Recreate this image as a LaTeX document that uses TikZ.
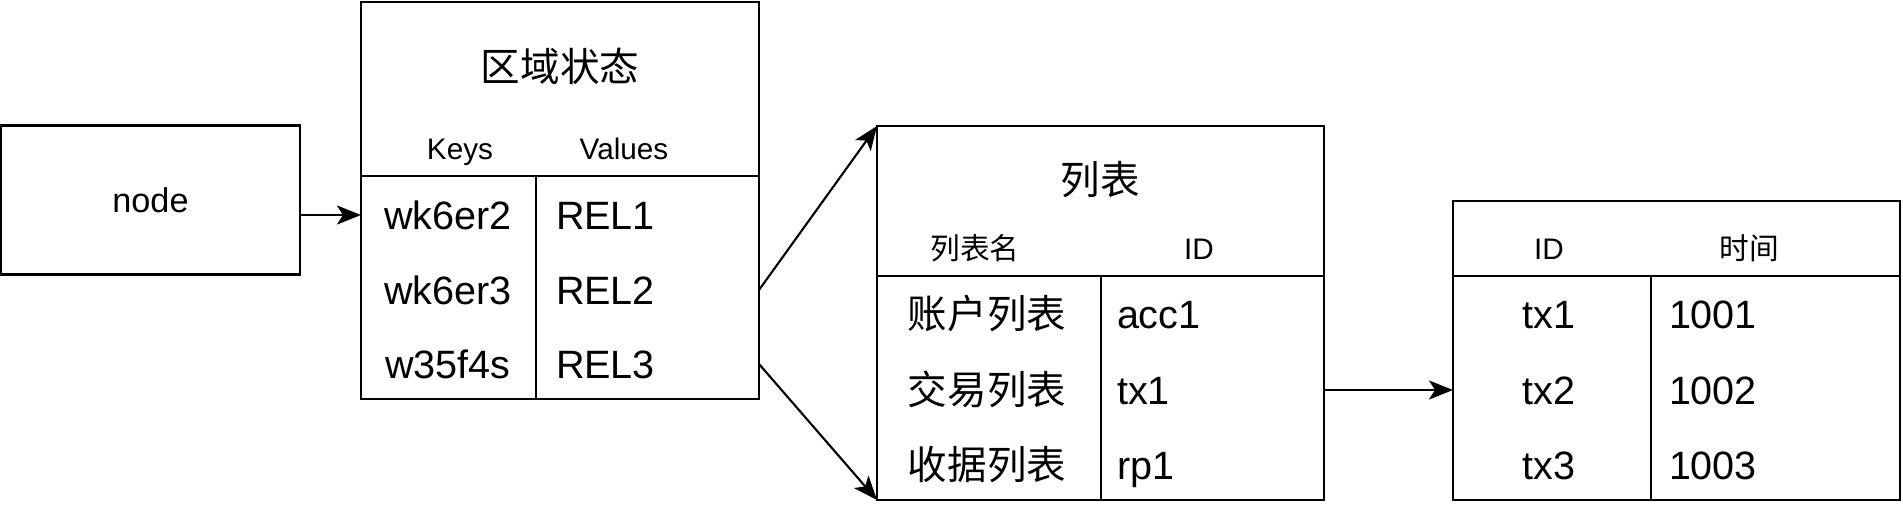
\documentclass[tikz,border=0pt]{standalone}
\usepackage{fontspec}
\setmainfont{Liberation Sans}
\newfontfamily\cjk{Noto Sans CJK SC}
\usetikzlibrary{arrows.meta}
\begin{document}
\begin{tikzpicture}[line width=1.2pt,
  every node/.style={inner sep=0pt, outer sep=0pt},
  tbl/.style={draw, rectangle},
  big/.style={font=\fontsize{22.5}{27}\selectfont, text height=0.57cm, text depth=0cm},
  small/.style={font=\fontsize{16.9}{20}\selectfont, text height=0.42cm, text depth=0cm},
  arr/.style={-{Stealth[length=0.48cm,width=0.38cm,inset=0.12cm]}}]
\useasboundingbox (0,0) rectangle (38.06,-10.46);

\node[tbl, minimum width=5.98cm, minimum height=2.98cm, font=\fontsize{19.5}{23}\selectfont] (node) at (3.01,-4.0) {node};

\node[tbl, minimum width=7.96cm, minimum height=7.94cm] (state) at (11.2,-4.01) {};
\draw (state.west |- 0,-3.52) -- (state.east |- 0,-3.52);
\draw (10.72,-3.52) -- (state.south -| 10.72,0);
\node[big] (st) at (11.2,-1.34) {\cjk 区域状态};
\node[small] (keys) at (9.2,-2.98) {Keys};
\node[small] (vals) at (12.48,-2.98) {Values};
\node[big] (k1) at (8.96,-4.3) {wk6er2};
\node[big] (k2) at (8.96,-5.8) {wk6er3};
\node[big] (k3) at (8.96,-7.28) {w35f4s};
\node[big, anchor=west] (v1) at (11.12,-4.3) {REL1};
\node[big, anchor=west] (v2) at (11.12,-5.8) {REL2};
\node[big, anchor=west] (v3) at (11.12,-7.28) {REL3};

\node[tbl, minimum width=8.94cm, minimum height=7.48cm] (list) at (22.01,-6.26) {};
\draw (list.west |- 0,-5.52) -- (list.east |- 0,-5.52);
\draw (22.02,-5.52) -- (list.south -| 22.02,0);
\node[big] (lt) at (22.0,-3.6) {\cjk 列表};
\node[small] (lname) at (19.5,-4.98) {\cjk 列表名};
\node[small] (lid) at (23.98,-4.98) {ID};
\node[big] (l1) at (19.74,-6.28) {\cjk 账户列表};
\node[big] (l2) at (19.74,-7.8) {\cjk 交易列表};
\node[big] (l3) at (19.74,-9.3) {\cjk 收据列表};
\node[big, anchor=west] (i1) at (22.34,-6.28) {acc1};
\node[big, anchor=west] (i2) at (22.34,-7.8) {tx1};
\node[big, anchor=west] (i3) at (22.34,-9.3) {rp1};

\node[tbl, minimum width=8.94cm, minimum height=5.98cm] (time) at (33.53,-7.01) {};
\draw (time.west |- 0,-5.52) -- (time.east |- 0,-5.52);
\draw (33.02,-5.52) -- (time.south -| 33.02,0);
\node[small] (tid) at (30.98,-4.98) {ID};
\node[small] (tt) at (34.98,-4.98) {\cjk 时间};
\node[big] (t1) at (30.98,-6.28) {tx1};
\node[big] (t2) at (30.98,-7.8) {tx2};
\node[big] (t3) at (30.98,-9.3) {tx3};
\node[big, anchor=west] (s1) at (33.38,-6.28) {1001};
\node[big, anchor=west] (s2) at (33.38,-7.8) {1002};
\node[big, anchor=west] (s3) at (33.38,-9.3) {1003};

\draw[arr] (node.east |- k1) -- (state.west |- k1);
\draw[arr] (state.east |- k2) -- (list.north west);
\draw[arr] (state.east |- k3) -- (list.south west);
\draw[arr] (list.east |- l2) -- (time.west |- l2);
\end{tikzpicture}
\end{document}
